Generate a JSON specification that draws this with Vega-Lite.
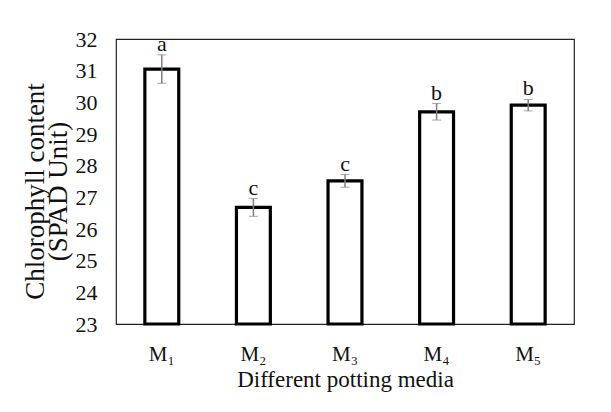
{
  "$schema": "https://vega.github.io/schema/vega-lite/v6.json",
  "autosize": {"type": "none"},
  "padding": {"left": 116, "top": 39, "right": 37, "bottom": 88},
  "width": 458,
  "height": 285,
  "background": "white",
  "config": {
    "font": "Liberation Serif",
    "view": {"stroke": "#222", "strokeWidth": 1.2},
    "axis": {"grid": false, "ticks": false, "domain": false, "labelColor": "#111", "titleColor": "#111", "labelFont": "Liberation Serif", "titleFont": "Liberation Serif", "titleFontWeight": "normal", "labelOverlap": false}
  },
  "data": {
    "values": [
      {"media": "M₁", "value": 31.05, "err": 0.45, "group": "a"},
      {"media": "M₂", "value": 26.68, "err": 0.28, "group": "c"},
      {"media": "M₃", "value": 27.52, "err": 0.20, "group": "c"},
      {"media": "M₄", "value": 29.70, "err": 0.26, "group": "b"},
      {"media": "M₅", "value": 29.91, "err": 0.18, "group": "b"}
    ]
  },
  "encoding": {
    "x": {
      "field": "media", "type": "nominal", "sort": null,
      "scale": {"paddingInner": 0.63, "paddingOuter": 0.315},
      "axis": {"title": "Different potting media", "labelAngle": 0, "labelFont": "Liberation Serif", "titleFont": "Liberation Serif", "labelFontSize": 21, "labelPadding": 19, "titleFontSize": 23, "titlePadding": 4}
    },
    "y": {
      "field": "value", "type": "quantitative",
      "scale": {"domain": [23, 32], "nice": false, "zero": false},
      "axis": {"values": [23, 24, 25, 26, 27, 28, 29, 30, 31, 32], "title": ["Chlorophyll content", "(SPAD Unit)"], "labelFont": "Liberation Serif", "titleFont": "Liberation Serif", "labelFontSize": 22, "labelPadding": 19, "titleFontSize": 27, "titleLineHeight": 23, "titlePadding": 3, "titleY": 152}
    }
  },
  "layer": [
    {
      "mark": {"type": "bar", "fill": "white", "stroke": "black", "strokeWidth": 3.2},
      "encoding": {"y2": {"datum": 23}}
    },
    {
      "mark": {"type": "errorbar", "ticks": {"size": 9, "color": "#7f7f7f", "strokeWidth": 1.5}, "rule": {"color": "#7f7f7f", "strokeWidth": 1.5}},
      "encoding": {"yError": {"field": "err"}}
    },
    {
      "transform": [{"calculate": "datum.value + datum.err", "as": "top"}],
      "mark": {"type": "text", "baseline": "alphabetic", "dy": -4, "fontSize": 22, "font": "Liberation Serif", "color": "#111"},
      "encoding": {
        "y": {
          "field": "top", "type": "quantitative",
          "axis": {"values": [23, 24, 25, 26, 27, 28, 29, 30, 31, 32], "title": ["Chlorophyll content", "(SPAD Unit)"], "labelFont": "Liberation Serif", "titleFont": "Liberation Serif", "labelFontSize": 22, "labelPadding": 19, "titleFontSize": 27, "titleLineHeight": 23, "titlePadding": 3, "titleY": 152}
        },
        "text": {"field": "group"}
      }
    }
  ]
}
